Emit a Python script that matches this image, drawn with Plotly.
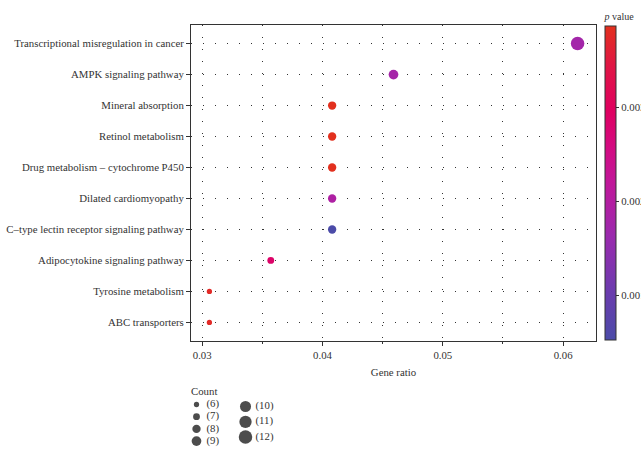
import plotly.graph_objects as go
import math

# ---------------- data ----------------
pathways = [
    "Transcriptional misregulation in cancer",
    "AMPK signaling pathway",
    "Mineral absorption",
    "Retinol metabolism",
    "Drug metabolism – cytochrome P450",
    "Dilated cardiomyopathy",
    "C–type lectin receptor signaling pathway",
    "Adipocytokine signaling pathway",
    "Tyrosine metabolism",
    "ABC transporters",
]
gene_ratio = [0.0612, 0.0459, 0.0408, 0.0408, 0.0408, 0.0408, 0.0408, 0.0357, 0.0306, 0.0306]
counts = [12, 9, 8, 8, 8, 8, 8, 7, 6, 6]
p_values = [0.00176, 0.00179, 0.00387, 0.00387, 0.00387, 0.00193, 0.00052, 0.00287, 0.00377, 0.00377]
legend_counts = [6, 7, 8, 9, 10, 11, 12]
x_ticks = [0.03, 0.04, 0.05, 0.06]
cb_ticks = [0.001, 0.002, 0.003]

# ---------------- styling ----------------
W, H = 641, 459
FONT = "Liberation Serif"
FS = 10.8
TXT = "#333333"
colorscale = [
    [0.00, "#4B4BA8"],
    [0.15, "#6A3CAE"],
    [0.33, "#9A2AAE"],
    [0.50, "#C0179A"],
    [0.62, "#D40A80"],
    [0.73, "#DF0060"],
    [0.87, "#E01545"],
    [1.00, "#E2301E"],
]

cmin_cb, cmax_cb = 0.00052, 0.00387

def dot_size(c):
    lo, hi = math.sqrt(min(legend_counts)), math.sqrt(max(legend_counts))
    s = 1 + 5 * (math.sqrt(c) - lo) / (hi - lo)
    return 1.65 * s + 3.6

# plot area in pixels
px_l, px_r, py_t, py_b = 191, 596, 25, 341

xmin, xmax = min(gene_ratio), max(gene_ratio)
pad = 0.05 * (xmax - xmin)
xr = [xmin - pad, xmax + pad]

cat_order = pathways[::-1]

fig = go.Figure()
fig.add_trace(go.Scatter(
    x=gene_ratio, y=pathways, mode="markers",
    marker=dict(
        size=[dot_size(c) for c in counts],
        color=p_values, colorscale=colorscale, cmin=cmin_cb, cmax=cmax_cb,
        line=dict(width=0), opacity=1,
        colorbar=dict(
            title=dict(text="<i>p</i> value", side="top",
                       font=dict(family=FONT, size=10, color=TXT)),
            x=605 / W, xanchor="left", xpad=0,
            y=(H - 340) / H, yanchor="bottom", ypad=0,
            len=330, lenmode="pixels", thickness=11,
            outlinecolor="#333333", outlinewidth=1,
            tickvals=cb_ticks, tickformat=".4f",
            ticks="outside", ticklen=3, tickcolor="#333333",
            tickfont=dict(family=FONT, size=FS, color=TXT),
        ),
    ),
    showlegend=False, hoverinfo="skip", xaxis="x", yaxis="y",
))

# ---------------- size legend (drawn on a hidden axis, pixel units) ----------------
leg_x, leg_y, leg_lbl = [], [], []
col_x = [196.5, 245.5]
col_y0 = [404.5, 406.5]
col_dy = [12.2, 15.3]
for i, c in enumerate(legend_counts):
    col = 0 if i < 4 else 1
    row = i if i < 4 else i - 4
    leg_x.append(col_x[col])
    leg_y.append(H - (col_y0[col] + row * col_dy[col]))
    leg_lbl.append(f"({c})")

fig.add_trace(go.Scatter(
    x=leg_x, y=leg_y, mode="markers",
    marker=dict(size=[dot_size(c) for c in legend_counts], color="black", line=dict(width=0)),
    showlegend=False, hoverinfo="skip", xaxis="x2", yaxis="y2",
))
fig.add_trace(go.Scatter(
    x=[x + 10 for x in leg_x], y=leg_y, mode="text", text=leg_lbl,
    textposition="middle right",
    textfont=dict(family=FONT, size=FS, color=TXT),
    showlegend=False, hoverinfo="skip", xaxis="x2", yaxis="y2",
))

grid_dash = "1px,11px"
fig.update_layout(
    width=W, height=H,
    margin=dict(l=0, r=0, t=0, b=0, autoexpand=False),
    paper_bgcolor="white", plot_bgcolor="white",
    font=dict(family=FONT, size=FS, color=TXT),
    xaxis=dict(
        domain=[px_l / W, px_r / W], range=xr,
        tickvals=x_ticks, tickformat=".2f",
        ticks="outside", ticklen=4, tickcolor="#333333",
        showgrid=True, gridcolor="#333333", gridwidth=1, griddash=grid_dash,
        minor=dict(dtick=0.005, tick0=0.0, showgrid=True, gridcolor="#333333",
                   griddash=grid_dash, ticks="outside", ticklen=2, tickcolor="#333333"),
        showline=True, linecolor="#333333", linewidth=1, mirror=True,
        zeroline=False, automargin=False,
        title=dict(text="Gene ratio", font=dict(family=FONT, size=FS, color=TXT), standoff=8),
        tickfont=dict(family=FONT, size=FS, color=TXT),
        anchor="y",
    ),
    yaxis=dict(
        domain=[(H - py_b) / H, (H - py_t) / H],
        type="category", categoryorder="array", categoryarray=cat_order,
        range=[-0.6, len(pathways) - 1 + 0.6],
        ticks="outside", ticklen=4, tickcolor="#333333",
        showgrid=True, gridcolor="#333333", gridwidth=1, griddash=grid_dash,
        showline=True, linecolor="#333333", linewidth=1, mirror=True,
        zeroline=False, automargin=False,
        tickfont=dict(family=FONT, size=FS, color=TXT),
        anchor="x",
    ),
    xaxis2=dict(domain=[180 / W, 300 / W], range=[180, 300], visible=False,
                fixedrange=True, anchor="y2"),
    yaxis2=dict(domain=[0, 80 / H], range=[0, 80], visible=False,
                fixedrange=True, anchor="x2"),
    annotations=[dict(
        text="Count", xref="paper", yref="paper",
        x=189 / W, y=(H - 391) / H, xanchor="left", yanchor="middle",
        showarrow=False, font=dict(family=FONT, size=FS, color=TXT),
    )],
)

fig.write_html("out.html")
